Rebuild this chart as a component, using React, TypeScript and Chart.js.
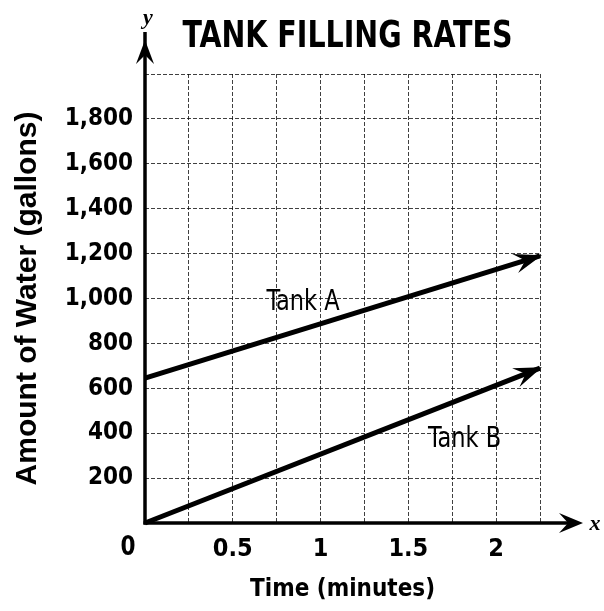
import { useEffect, useRef } from 'react';
import { Chart, registerables } from 'chart.js';

Chart.register(...registerables);

// ---- data ----
const timeMinutes = [0, 2.25];
const tankAGallons = [645, 1190];
const tankBGallons = [0, 690];
const seriesNames = ['Tank A', 'Tank B'];
const xLabelValues = [0.5, 1, 1.5, 2];
const yLabelValues = [200, 400, 600, 800, 1000, 1200, 1400, 1600, 1800];
const chartTitle = 'TANK FILLING RATES';
const xAxisTitle = 'Time (minutes)';
const yAxisTitle = 'Amount of Water (gallons)';

const NARROW = '"Liberation Sans Narrow", "DejaVu Sans Condensed", "Liberation Sans", sans-serif';
const WIDE = '"Liberation Sans", Arial, sans-serif';
const GRID = 'rgba(0,0,0,0.75)';

function arrowHead(ctx: CanvasRenderingContext2D, x: number, y: number, angle: number, len: number, halfW: number) {
  ctx.save();
  ctx.translate(x, y);
  ctx.rotate(angle);
  ctx.beginPath();
  ctx.moveTo(0, 0);
  ctx.lineTo(-len, -halfW);
  ctx.lineTo(-len * 0.62, 0);
  ctx.lineTo(-len, halfW);
  ctx.closePath();
  ctx.fill();
  ctx.restore();
}

const decorPlugin = {
  id: 'decor',
  beforeDraw(chart: any) {
    const { ctx, width, height } = chart;
    ctx.save();
    ctx.fillStyle = '#fff';
    ctx.fillRect(0, 0, width, height);
    ctx.restore();
  },
  afterDraw(chart: any) {
    const { ctx, chartArea } = chart;
    const { left, right, top, bottom } = chartArea;
    const xs = chart.scales.x;
    const ys = chart.scales.y;
    ctx.save();
    ctx.fillStyle = '#000';
    ctx.strokeStyle = '#000';

    // axes with arrows
    ctx.lineWidth = 3.5;
    ctx.lineCap = 'butt';
    ctx.beginPath();
    ctx.moveTo(left, bottom + 1.5);
    ctx.lineTo(left, top - 42);
    ctx.stroke();
    arrowHead(ctx, left, top - 34, -Math.PI / 2, 24, 9);
    ctx.beginPath();
    ctx.moveTo(left - 1.5, bottom);
    ctx.lineTo(right + 36, bottom);
    ctx.stroke();
    arrowHead(ctx, right + 43, bottom, 0, 24, 10);

    // arrowheads at end of each series
    chart.data.datasets.forEach((_: any, i: number) => {
      const meta = chart.getDatasetMeta(i);
      const pts = meta.data;
      if (pts.length < 2) return;
      const a = pts[pts.length - 2];
      const b = pts[pts.length - 1];
      const ang = Math.atan2(b.y - a.y, b.x - a.x);
      arrowHead(ctx, b.x + Math.cos(ang) * 2, b.y + Math.sin(ang) * 2, ang, 28, 10);
    });

    // axis letters
    ctx.font = 'italic bold 22px "Liberation Serif", "DejaVu Serif", serif';
    ctx.textAlign = 'center';
    ctx.textBaseline = 'middle';
    ctx.fillText('y', left + 3, top - 56);
    ctx.fillText('x', right + 55, bottom + 1);

    // origin label
    ctx.font = `bold 24px ${NARROW}`;
    ctx.save();
    ctx.translate(xs.getPixelForValue(0) - 17, bottom + 25);
    ctx.scale(1, 1.1);
    ctx.fillText('0', 0, 0);
    ctx.restore();

    // title (slightly tall, condensed look)
    ctx.font = `bold 31.7px ${NARROW}`;
    ctx.textBaseline = 'alphabetic';
    ctx.save();
    ctx.translate((left + right) / 2 + 5, 47);
    ctx.scale(1, 1.2);
    ctx.fillText(chartTitle, 0, 0);
    ctx.restore();

    // series labels
    ctx.font = `25px ${NARROW}`;
    const labelPos = [
      [0.9, 950],
      [1.82, 340],
    ];
    seriesNames.forEach((name, i) => {
      ctx.save();
      ctx.translate(xs.getPixelForValue(labelPos[i][0]), ys.getPixelForValue(labelPos[i][1]));
      ctx.scale(1, 1.1);
      ctx.fillText(name, 0, 0);
      ctx.restore();
    });
    ctx.restore();
  },
};

export default function App() {
  const ref = useRef<HTMLCanvasElement | null>(null);
  useEffect(() => {
    document.body.style.margin = '0';
    if (!ref.current) return;
    const chart = new Chart(ref.current, {
      type: 'line',
      data: {
        datasets: [
          {
            label: seriesNames[0],
            data: timeMinutes.map((t, i) => ({ x: t, y: tankAGallons[i] })),
            borderColor: '#000',
            borderWidth: 5,
            pointRadius: 0,
            clip: false as any,
          },
          {
            label: seriesNames[1],
            data: timeMinutes.map((t, i) => ({ x: t, y: tankBGallons[i] })),
            borderColor: '#000',
            borderWidth: 5,
            pointRadius: 0,
            clip: false as any,
          },
        ],
      },
      options: {
        responsive: false,
        animation: false,
        layout: { padding: { top: 74, right: 64, left: 0, bottom: 0 } },
        plugins: { legend: { display: false }, tooltip: { enabled: false }, title: { display: false } },
        scales: {
          x: {
            type: 'linear',
            min: 0,
            max: 2.25,
            grid: { color: GRID, lineWidth: 1, drawTicks: false },
            border: { display: false, dash: [4, 2] },
            ticks: {
              stepSize: 0.25,
              autoSkip: false,
              maxRotation: 0,
              padding: 11,
              color: '#000',
              font: { family: NARROW, size: 25, weight: 'bold' },
              callback: (v: any) => (xLabelValues.includes(Number(v)) ? String(v) : ''),
            },
            title: {
              display: true,
              text: xAxisTitle,
              color: '#000',
              font: { family: NARROW, size: 24, weight: 'bold' },
              padding: { top: 4, bottom: 7 },
            },
            afterFit: (s: any) => {
              s.height = 88;
            },
          },
          y: {
            type: 'linear',
            min: 0,
            max: 2000,
            grid: { color: GRID, lineWidth: 1, drawTicks: false },
            border: { display: false, dash: [4, 2] },
            ticks: {
              stepSize: 200,
              autoSkip: false,
              padding: 12,
              color: '#000',
              font: { family: NARROW, size: 24, weight: 'bold' },
              callback: (v: any) => (yLabelValues.includes(Number(v)) ? Number(v).toLocaleString('en-US') : ''),
            },
            title: {
              display: true,
              text: yAxisTitle,
              color: '#000',
              font: { family: WIDE, size: 30, weight: 'bold' },
              padding: { top: 10, bottom: 0 },
            },
            afterFit: (s: any) => {
              s.width = 145;
            },
          },
        },
      } as any,
      plugins: [decorPlugin],
    });
    return () => chart.destroy();
  }, []);
  return (
    <div style={{ position: 'absolute', left: 0, top: 0, width: 604, height: 611 }}>
      <canvas ref={ref} width={604} height={611} />
    </div>
  );
}
